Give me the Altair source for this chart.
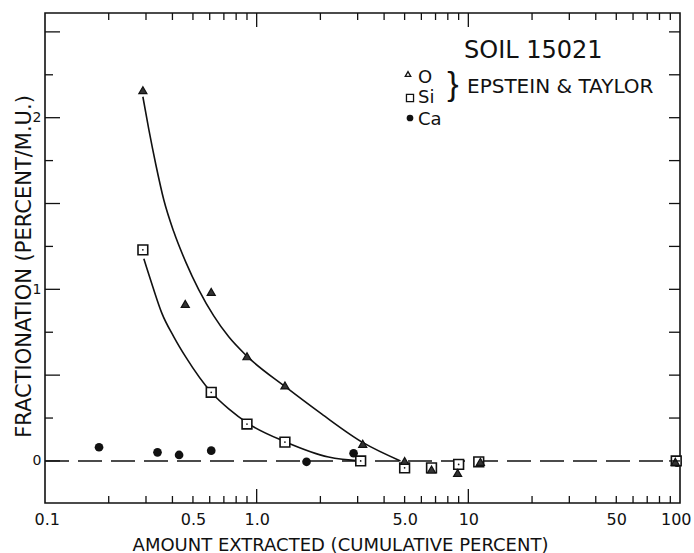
import altair as alt
import pandas as pd

# ---- data ----
o_x = [0.29, 0.46, 0.61, 0.90, 1.36, 3.17, 5.0, 6.7, 8.9, 11.4, 95]
o_y = [2.16, 0.915, 0.985, 0.61, 0.44, 0.10, 0.0, -0.05, -0.07, -0.005, -0.005]
si_x = [0.29, 0.61, 0.90, 1.36, 3.1, 5.0, 6.7, 9.0, 11.2, 96]
si_y = [1.23, 0.40, 0.215, 0.11, 0.0, -0.04, -0.04, -0.02, -0.005, 0.0]
ca_x = [0.18, 0.34, 0.43, 0.61, 1.72, 2.87, 97]
ca_y = [0.08, 0.05, 0.035, 0.06, -0.005, 0.045, -0.01]

o_curve_x = [0.290, 0.3095, 0.334, 0.364, 0.406, 0.462, 0.533, 0.627, 0.738, 0.897,
             1.370, 2.026, 3.197, 4.78]
o_curve_y = [2.122, 1.930, 1.726, 1.522, 1.335, 1.160, 0.997, 0.845, 0.723, 0.612,
             0.431, 0.274, 0.105, 0.0]
si_curve_x = [0.293, 0.323, 0.356, 0.406, 0.462, 0.613, 0.738, 0.917, 1.370, 2.186, 3.128]
si_curve_y = [1.178, 1.015, 0.863, 0.723, 0.606, 0.397, 0.303, 0.216, 0.111, 0.023, 0.0]

zero_x = [0.1, 100]
zero_y = [0, 0]

x_label_values = [0.1, 0.5, 1, 5, 10, 50, 100]
x_minor_ticks = [0.2, 0.3, 0.4, 0.5, 0.6, 0.7, 0.8, 0.9,
                 2, 3, 4, 5, 6, 7, 8, 9,
                 20, 30, 40, 50, 60, 70, 80, 90]
x_major_ticks = [1, 10]
y_label_values = [0, 1, 2]
y_long_ticks = [0, 0.5, 1, 1.5, 2, 2.5]
y_short_ticks = [0.25, 0.75, 1.25, 1.75, 2.25]
y_right_ticks = [0, 0.25, 0.5, 0.75, 1, 1.25, 1.5, 1.75, 2, 2.25, 2.5]

FONT = "DejaVu Sans"
INK = "#111111"
W, H = 635, 490

xscale = alt.Scale(type="log", domain=[0.1, 100], nice=False)
yscale = alt.Scale(domain=[-0.245, 2.61], nice=False, zero=False)

label_expr = ("abs(datum.value-0.1)<1e-6 ? '0.1' : abs(datum.value-0.5)<1e-6 ? '0.5' : "
              "abs(datum.value-1)<1e-6 ? '1.0' : abs(datum.value-5)<1e-6 ? '5.0' : "
              "format(datum.value, 'd')")

xaxis = alt.Axis(values=x_label_values, labelExpr=label_expr, ticks=False, tickSize=0,
                 domain=False, grid=False, labelFont=FONT, labelFontSize=16,
                 labelPadding=8, labelColor=INK, labelFlush=True, labelFlushOffset=11,
                 labelOverlap=False,
                 title="AMOUNT EXTRACTED (CUMULATIVE PERCENT)", titleFont=FONT,
                 titleFontSize=18, titleFontWeight="normal", titleColor=INK,
                 titleX=295, titleY=47, titleBaseline="alphabetic", titleAlign="center")
yaxis = alt.Axis(values=y_label_values, format="d", ticks=False, tickSize=0,
                 domain=False, grid=False, labelFont=FONT, labelFontSize=14,
                 labelPadding=4, labelColor=INK,
                 title="FRACTIONATION (PERCENT/M.U.)", titleFont=FONT,
                 titleFontSize=21, titleFontWeight="normal", titleColor=INK,
                 titleX=-15, titleY=253, titleAngle=270, titleBaseline="alphabetic",
                 titleAlign="center")


def X(f="x"):
    return alt.X(f"{f}:Q", scale=xscale, axis=xaxis)


def Y(f="y"):
    return alt.Y(f"{f}:Q", scale=yscale, axis=yaxis)


df_o = pd.DataFrame({"x": o_x, "y": o_y})
df_si = pd.DataFrame({"x": si_x, "y": si_y})
df_ca = pd.DataFrame({"x": ca_x, "y": ca_y})
df_oc = pd.DataFrame({"x": o_curve_x, "y": o_curve_y})
df_sc = pd.DataFrame({"x": si_curve_x, "y": si_curve_y})
df_zero = pd.DataFrame({"x": zero_x, "y": zero_y})

layers = []

# zero dashed line
layers.append(alt.Chart(df_zero).mark_line(color=INK, strokeWidth=1.4, strokeDash=[24, 9])
              .encode(x=X(), y=Y()))
# fitted curves
layers.append(alt.Chart(df_oc).mark_line(color=INK, strokeWidth=1.6, interpolate="monotone")
              .encode(x=X(), y=Y()))
layers.append(alt.Chart(df_sc).mark_line(color=INK, strokeWidth=1.6, interpolate="monotone")
              .encode(x=X(), y=Y()))
# points
layers.append(alt.Chart(df_ca).mark_point(shape="circle", filled=True, size=75, color=INK, opacity=1)
              .encode(x=X(), y=Y()))
layers.append(alt.Chart(df_si).mark_point(shape="square", filled=True, size=95, fill="white",
                                          stroke=INK, strokeWidth=1.6, opacity=1)
              .encode(x=X(), y=Y()))
layers.append(alt.Chart(df_si).mark_point(shape="circle", filled=True, size=3, color=INK, opacity=1)
              .encode(x=X(), y=Y()))
layers.append(alt.Chart(df_o).mark_point(shape="triangle-up", filled=True, size=65, fill="#333333",
                                         stroke=INK, strokeWidth=1.2, opacity=1)
              .encode(x=X(), y=Y()))


# inward ticks
def xticks(vals, y0, y1):
    return alt.Chart(pd.DataFrame({"x": vals})).mark_rule(color=INK, strokeWidth=1.3).encode(
        x=X(), y=alt.value(y0), y2=alt.value(y1))


def yticks(vals, x0, x1):
    return alt.Chart(pd.DataFrame({"y": vals})).mark_rule(color=INK, strokeWidth=1.3).encode(
        y=Y(), x=alt.value(x0), x2=alt.value(x1))


layers += [
    xticks(x_minor_ticks, H, H - 7), xticks(x_major_ticks, H, H - 14),
    xticks(x_minor_ticks, 0, 7), xticks(x_major_ticks, 0, 14),
    yticks(y_long_ticks, 0, 15), yticks(y_short_ticks, 0, 8),
    yticks(y_right_ticks, W, W - 11),
]


# annotation / legend (pixel positions inside plot)
def txt(s, x, y, size, font=FONT, align="left"):
    return alt.Chart(pd.DataFrame({"t": [s]})).mark_text(
        font=font, fontSize=size, color=INK, align=align, baseline="alphabetic").encode(
        text="t:N", x=alt.value(x), y=alt.value(y))


def sym(shape, x, y, size, filled):
    return alt.Chart(pd.DataFrame({"a": [0]})).mark_point(
        shape=shape, size=size, opacity=1, strokeWidth=1.3, filled=filled, color=INK).encode(
        x=alt.value(x), y=alt.value(y))


layers += [
    txt("SOIL 15021", 419, 45, 24),
    sym("triangle-up", 363, 61, 30, False),
    sym("square", 365, 85, 50, False),
    sym("circle", 365, 105, 45, True),
    txt("O", 373, 70, 18),
    txt("Si", 373, 90, 18),
    txt("Ca", 373, 112, 18),
    txt("}", 408, 82, 34, font="Liberation Sans", align="center"),
    txt("EPSTEIN & TAYLOR", 422, 80, 20),
]

chart = alt.layer(*layers).properties(
    width=W, height=H,
    padding={"left": 45, "top": 13, "right": 14, "bottom": 50},
    autosize=alt.AutoSizeParams(type="none"),
    background="white",
).configure_view(stroke=INK, strokeWidth=1.6)

chart.save("out.html", embed_options={"renderer": "svg", "actions": False})
